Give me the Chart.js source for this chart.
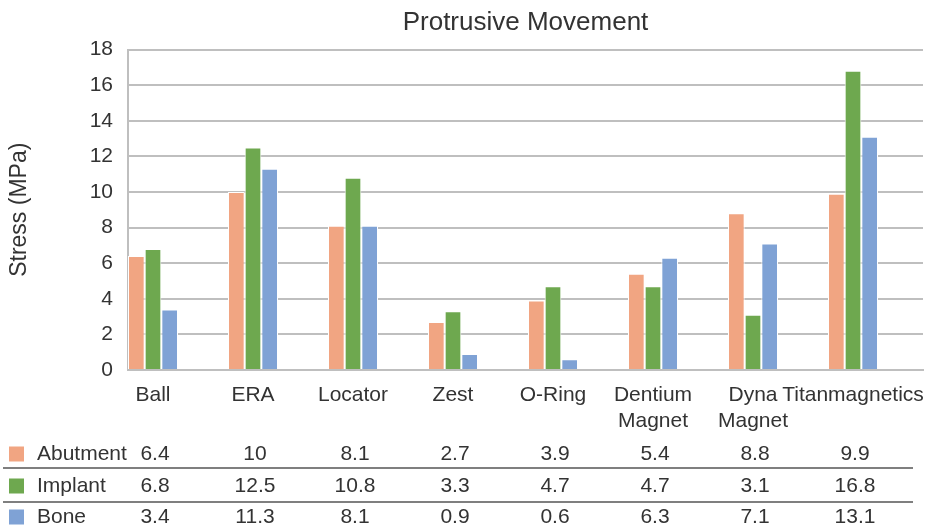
<!DOCTYPE html>
<html>
<head>
<meta charset="utf-8">
<script src="https://cdn.jsdelivr.net/npm/chart.js@4/dist/chart.umd.min.js"></script>
<style>
  body { margin: 0; background: #fff; }
  #wrap { width: 936px; height: 530px; }
</style>
</head>
<body>
<div id="wrap"><canvas id="stressChart" width="936" height="530"></canvas></div>
<script>
const categories = ["Ball", "ERA", "Locator", "Zest", "O-Ring", ["Dentium", "Magnet"], ["Dyna", "Magnet"], "Titanmagnetics"];
const abutment = [6.4, 10, 8.1, 2.7, 3.9, 5.4, 8.8, 9.9];
const implant = [6.8, 12.5, 10.8, 3.3, 4.7, 4.7, 3.1, 16.8];
const bone = [3.4, 11.3, 8.1, 0.9, 0.6, 6.3, 7.1, 13.1];
const seriesNames = ["Abutment", "Implant", "Bone"];
const seriesColors = ["#f1a582", "#6ea84f", "#7fa2d5"];
const yTicks = [0, 2, 4, 6, 8, 10, 12, 14, 16, 18];

const FONT = "'Liberation Sans', Arial, sans-serif";
const TEXT = "#333333";

function toPoints(values) {
  return values.map((v, i) => ({ x: i, y: v }));
}

// data table drawn under the x axis, columns follow the x scale
const tablePlugin = {
  id: "dataTable",
  afterDraw(chart) {
    const ctx = chart.ctx;
    const x = chart.scales.x;
    const rows = [abutment, implant, bone];
    const rowY = [454, 486, 517];
    ctx.save();
    ctx.font = "21px " + FONT;
    ctx.textBaseline = "middle";
    rows.forEach((vals, r) => {
      ctx.fillStyle = seriesColors[r];
      ctx.fillRect(9, rowY[r] - 7.5, 15, 15);
      ctx.fillStyle = TEXT;
      ctx.textAlign = "left";
      ctx.fillText(seriesNames[r], 37, rowY[r]);
      ctx.textAlign = "center";
      vals.forEach((v, i) => {
        ctx.fillText(String(v), x.getPixelForValue(i) + 2, rowY[r]);
      });
    });
    ctx.strokeStyle = "#555555";
    ctx.lineWidth = 1.5;
    [468, 502].forEach(y => {
      ctx.beginPath();
      ctx.moveTo(3, y);
      ctx.lineTo(913, y);
      ctx.stroke();
    });
    ctx.restore();
  }
};

const ctx = document.getElementById("stressChart").getContext("2d");
const myChart = new Chart(ctx, {
  type: "bar",
  data: {
    datasets: [
      { label: seriesNames[0], data: toPoints(abutment), backgroundColor: seriesColors[0] },
      { label: seriesNames[1], data: toPoints(implant), backgroundColor: seriesColors[1] },
      { label: seriesNames[2], data: toPoints(bone), backgroundColor: seriesColors[2] },
    ],
  },
  options: {
    responsive: false,
    animation: false,
    layout: { padding: { left: 0, right: 13, top: 0, bottom: 0 } },
    datasets: {
      bar: { categoryPercentage: 0.5, barPercentage: 1, borderWidth: 1, borderColor: "#ffffff" },
    },
    plugins: {
      legend: { display: false },
      tooltip: { enabled: false },
      title: {
        display: true,
        fullSize: false,
        text: "Protrusive Movement",
        color: TEXT,
        font: { family: FONT, size: 26, weight: "normal" },
        padding: { top: 7, bottom: 11.3 },
      },
    },
    scales: {
      x: {
        type: "linear",
        offset: false,
        min: -0.25,
        max: 7.7,
        grid: { display: false },
        border: { display: true, color: "#bfbfbf", width: 2 },
        afterBuildTicks(scale) {
          scale.ticks = categories.map((c, i) => ({ value: i }));
        },
        afterFit(scale) {
          scale.height = 160;
        },
        ticks: {
          autoSkip: false,
          maxRotation: 0,
          padding: 5,
          color: TEXT,
          font: { family: FONT, size: 21 },
          callback: (v) => categories[v],
        },
      },
      y: {
        min: 0,
        max: 18,
        afterBuildTicks(scale) {
          scale.ticks = yTicks.map(v => ({ value: v }));
        },
        afterFit(scale) {
          scale.width = 128;
        },
        grid: { color: "#bfbfbf", lineWidth: 2, drawTicks: false },
        border: { display: true, color: "#bfbfbf", width: 2 },
        ticks: {
          padding: 15,
          color: TEXT,
          font: { family: FONT, size: 21 },
        },
        title: {
          display: true,
          text: "Stress (MPa)",
          color: TEXT,
          font: { family: FONT, size: 23 },
          padding: { top: 6, bottom: 0 },
        },
      },
    },
  },
  plugins: [tablePlugin],
});
</script>
</body>
</html>
